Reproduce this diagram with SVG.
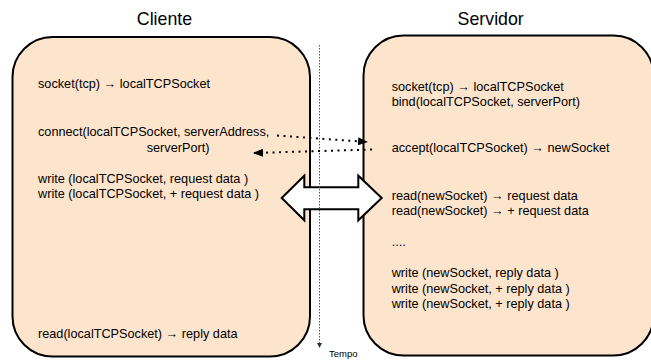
<svg xmlns="http://www.w3.org/2000/svg" width="651" height="360" viewBox="0 0 651 360">
<defs>
<style>
.box{fill:#fde4cd;stroke:#000;stroke-width:2}
.t{font-family:"Liberation Sans",Arial,sans-serif;font-size:12.7px;fill:#000}
.title{font-family:"Liberation Sans",Arial,sans-serif;font-size:17.8px;fill:#000;text-anchor:middle}
.dot{fill:none;stroke:#000;stroke-width:2;stroke-dasharray:2 4.5}
.time{fill:none;stroke:#555;stroke-width:1;stroke-dasharray:1.5 1.5}
</style>
<marker id="ah" markerWidth="10" markerHeight="8" refX="9" refY="4" orient="auto" markerUnits="userSpaceOnUse">
<path d="M0,0 L10,4 L0,8 Z" fill="#000"/>
</marker>
<marker id="ahs" markerWidth="6" markerHeight="5" refX="5" refY="2.5" orient="auto" markerUnits="userSpaceOnUse">
<path d="M0,0 L5,2.5 L0,5 Z" fill="#333"/>
</marker>
</defs>
<rect width="651" height="360" fill="#fff"/>
<text class="title" x="164.5" y="25">Cliente</text>
<text class="title" x="490.7" y="25">Servidor</text>
<g id="cliente">
<rect class="box" x="12.5" y="37" width="297.5" height="319.5" rx="40" ry="40"/>
<text class="t" x="38" y="88.3">socket(tcp) → localTCPSocket</text>
<text class="t" x="38" y="136">connect(localTCPSocket, serverAddress,</text>
<text class="t" x="146.7" y="151.5">serverPort)</text>
<text class="t" x="38" y="182.7">write (localTCPSocket, request data )</text>
<text class="t" x="38" y="198.3">write (localTCPSocket, + request data )</text>
<text class="t" x="38" y="338.3">read(localTCPSocket) → reply data</text>
</g>
<g id="servidor">
<rect class="box" x="363.5" y="35.5" width="290" height="320" rx="40" ry="40"/>
<text class="t" x="391.7" y="90.7">socket(tcp) → localTCPSocket</text>
<text class="t" x="391.7" y="106">bind(localTCPSocket, serverPort)</text>
<text class="t" x="391.7" y="152">accept(localTCPSocket) → newSocket</text>
<text class="t" x="391.7" y="200">read(newSocket) → request data</text>
<text class="t" x="391.7" y="215.3">read(newSocket) → + request data</text>
<text class="t" x="391.7" y="246">....</text>
<text class="t" x="391.7" y="277.3">write (newSocket, reply data )</text>
<text class="t" x="391.7" y="292.6">write (newSocket, + reply data )</text>
<text class="t" x="391.7" y="307.9">write (newSocket, + reply data )</text>
</g>
<g id="connectors">
<polygon points="281.7,198 304.3,175.7 304.3,187.3 358.3,187.3 358.3,175.7 381.7,198 358.3,220.3 358.3,209.3 304.3,209.3 304.3,220.3" fill="#fff" stroke="#000" stroke-width="2" stroke-linejoin="miter"/>
<line class="time" x1="319.5" y1="45" x2="319.5" y2="348" marker-end="url(#ahs)"/>
<line class="dot" x1="277" y1="135.5" x2="367" y2="142" marker-end="url(#ah)"/>
<line class="dot" x1="372" y1="149.5" x2="254" y2="153" marker-end="url(#ah)"/>
<text x="329" y="357" font-family="'Liberation Sans',Arial,sans-serif" font-size="9.5px" fill="#000">Tempo</text>
</g>
</svg>
